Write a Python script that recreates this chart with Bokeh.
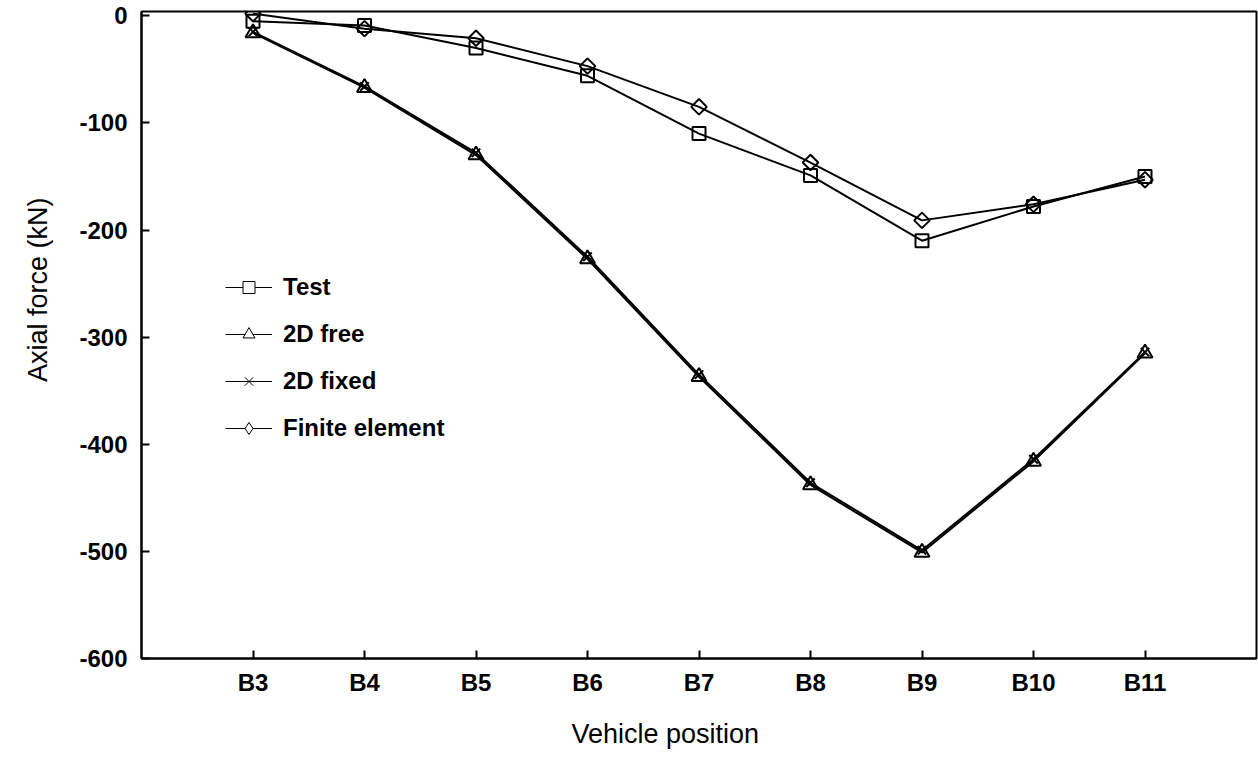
import numpy as np
from bokeh.plotting import figure
from bokeh.models import Range1d, FixedTicker, Legend, LegendItem, ColumnDataSource, Title
from bokeh.embed import file_html
from bokeh.resources import INLINE

# ---- data ----
positions = ["B3", "B4", "B5", "B6", "B7", "B8", "B9", "B10", "B11"]
test_force = [-5, -9, -30, -56, -110, -149, -210, -178, -150]
free_2d = [-16, -67, -130, -227, -337, -438, -501, -416, -315]
fixed_2d = [-15, -66, -128, -225, -335, -436, -499, -414, -314]
finite_element = [2, -12, -21, -47, -85, -137, -191, -176, -153]
y_ticks = [-600, -500, -400, -300, -200, -100, 0]

FONT = "Liberation Sans"
x_idx = list(range(len(positions)))

p = figure(width=1258, height=767, output_backend="svg", toolbar_location=None,
           x_range=Range1d(-1, len(positions)), y_range=Range1d(-600, 4),
           min_border_left=141, min_border_right=2, min_border_top=11, min_border_bottom=109)
p.xgrid.visible = False
p.ygrid.visible = False
p.outline_line_color = "black"
p.outline_line_width = 2
p.outline_line_alpha = 1
p.background_fill_color = "white"
p.border_fill_color = "white"

for ax in (p.xaxis[0], p.yaxis[0]):
    ax.axis_line_width = 2
    ax.axis_line_color = "black"
    ax.major_tick_in = 8
    ax.major_tick_out = 0
    ax.major_tick_line_width = 2
    ax.major_tick_line_color = "black"
    ax.minor_tick_line_color = None
    ax.major_label_text_font = FONT
    ax.major_label_text_font_size = "24px"
    ax.major_label_text_font_style = "bold"
    ax.major_label_text_color = "black"

p.xaxis.ticker = FixedTicker(ticks=x_idx)
p.xaxis.major_label_overrides = {i: name for i, name in zip(x_idx, positions)}
p.xaxis.major_label_standoff = 10
p.yaxis.ticker = FixedTicker(ticks=y_ticks)
p.yaxis.major_label_overrides = {v: str(v) for v in y_ticks}
p.yaxis.major_label_standoff = 14

src = ColumnDataSource(dict(x=x_idx, test=test_force, free=free_2d, fixed=fixed_2d, fe=finite_element))

LW = 2
p.line("x", "free", source=src, line_color="black", line_width=LW)
p.line("x", "fixed", source=src, line_color="black", line_width=LW)
p.line("x", "test", source=src, line_color="black", line_width=LW)
p.line("x", "fe", source=src, line_color="black", line_width=LW)
p.scatter("x", "free", source=src, marker="triangle", size=15, line_color="black",
          line_width=LW, fill_color=None)
p.scatter("x", "fixed", source=src, marker="x", size=12, line_color="black", line_width=LW)
p.scatter("x", "test", source=src, marker="square", size=13, line_color="black",
          line_width=LW, fill_color=None)
p.scatter("x", "fe", source=src, marker="square", angle=np.pi / 4, size=11, line_color="black",
          line_width=LW, fill_color=None)

# legend proxies (thin lines like the reference key); one NaN point so nothing is plotted
blank = ColumnDataSource(dict(x=[np.nan], y=[np.nan]))
def proxy(marker, size):
    l = p.line("x", "y", source=blank, line_color="black", line_width=1)
    m = p.scatter("x", "y", source=blank, marker=marker, size=size,
                  line_color="black", line_width=1, fill_color="white")
    return [l, m]

legend = Legend(items=[
    LegendItem(label="Test", renderers=proxy("square", 12)),
    LegendItem(label="2D free", renderers=proxy("triangle", 12)),
    LegendItem(label="2D fixed", renderers=proxy("x", 12)),
    LegendItem(label="Finite element", renderers=proxy("diamond", 14)),
], location=(84, 215))
legend.glyph_width = 47
legend.glyph_height = 30
legend.label_height = 30
legend.spacing = 17
legend.padding = 0
legend.margin = 0
legend.label_standoff = 11
legend.border_line_alpha = 0
legend.background_fill_alpha = 0
legend.label_text_font = FONT
legend.label_text_font_size = "24px"
legend.label_text_font_style = "bold"
legend.label_text_color = "black"
p.add_layout(legend, "center")

# axis titles as side-panel titles (offset to match the reference placement)
ytitle = Title(text="Axial force (kN)", align="right", offset=186, vertical_align="top",
               standoff=43, text_font=FONT, text_font_size="27px", text_font_style="normal",
               text_color="black")
p.add_layout(ytitle, "left")
xtitle = Title(text="Vehicle position", align="left", offset=430, vertical_align="bottom",
               standoff=37, text_font=FONT, text_font_size="27px", text_font_style="normal",
               text_color="black")
p.add_layout(xtitle, "below")

open("out.html", "w").write(file_html(p, INLINE))
